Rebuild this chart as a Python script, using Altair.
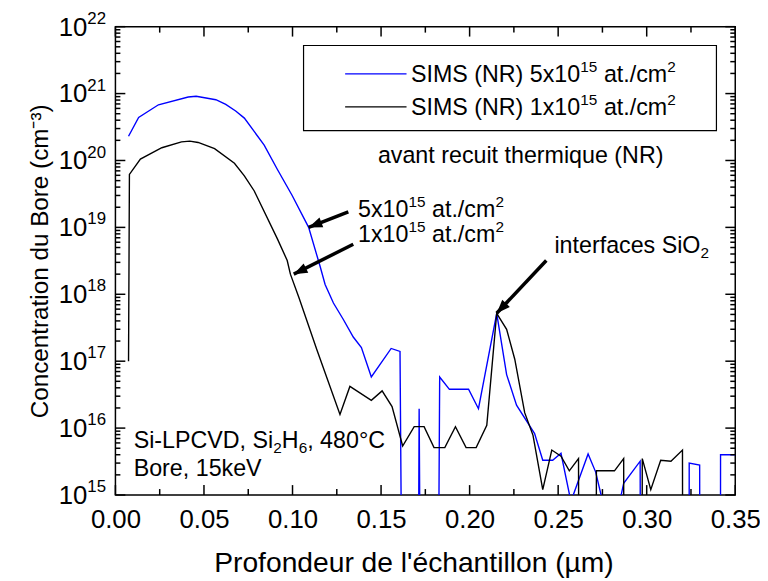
import math
import altair as alt
import pandas as pd

# ---------------- data ----------------
# depth in µm, concentration in cm^-3 ; 1e10 stands for "below detection" (off the chart)
blue_x = [0.0074, 0.0131, 0.0243, 0.0411, 0.0456, 0.0567, 0.0623, 0.0679, 0.0728, 0.0840,
          0.0914, 0.0998, 0.1091, 0.1156, 0.1184, 0.1231, 0.1287, 0.1343, 0.1389, 0.1445,
          0.1557, 0.1607, 0.1627, 0.1705, 0.1715, 0.1730, 0.1816, 0.1831, 0.1886, 0.1994,
          0.2050, 0.2153, 0.2209, 0.2265, 0.2367, 0.2413, 0.2469, 0.2516, 0.2572, 0.2669,
          0.2712, 0.2762, 0.2838, 0.2870, 0.2963, 0.2968, 0.3239, 0.3240, 0.3299, 0.3303,
          0.3416, 0.3417, 0.3500]
blue_y = [2.3e20, 4.4e20, 6.8e20, 8.9e20, 9.1e20, 8.1e20, 6.9e20, 5.5e20, 4.3e20, 1.7e20,
          7.4e19, 3.0e19, 1.0e19, 2.6e18, 1.4e18, 7.4e17, 4.2e17, 2.3e17, 1.6e17, 5.8e16,
          1.55e17, 1.4e17, 1e10, 1e10, 1.95e16, 1e10, 1e10, 5.8e16, 3.8e16, 3.8e16,
          1.95e16, 5.2e17, 6.3e16, 2.2e16, 8.3e15, 3.3e15, 3.3e15, 4.2e15, 8e14, 4.1e15,
          2.2e15, 6e14, 6e14, 1.5e15, 3.2e15, 1e10, 1e10, 3.0e15, 2.8e15, 1e10,
          1e10, 4.0e15, 4.0e15]

black_x = [0.0074, 0.0079, 0.0141, 0.0262, 0.0373, 0.0420, 0.0467, 0.0560, 0.0672, 0.0728,
           0.0784, 0.0914, 0.0970, 0.0988, 0.1035, 0.1137, 0.1268, 0.1324, 0.1445, 0.1506,
           0.1562, 0.1622, 0.1687, 0.1743, 0.1799, 0.1860, 0.1920, 0.1980, 0.2037, 0.2097,
           0.2153, 0.2209, 0.2255, 0.2311, 0.2358, 0.2413, 0.2464, 0.2516, 0.2563, 0.2615,
           0.2620, 0.2712, 0.2716, 0.2818, 0.2870, 0.2873, 0.2972, 0.2975, 0.3023, 0.3079,
           0.3137, 0.3202, 0.3205, 0.3500]
black_y = [1.0e17, 6.2e19, 1.05e20, 1.55e20, 1.9e20, 1.95e20, 1.86e20, 1.5e20, 9.1e19, 5.9e19,
           3.5e19, 6.8e18, 3.2e18, 2.0e18, 9.1e17, 1.5e17, 1.6e16, 4.2e16, 2.6e16, 3.6e16,
           2.1e16, 5.4e15, 1.05e16, 1.05e16, 5.1e15, 5.1e15, 1.05e16, 5.1e15, 5.1e15, 1.1e16,
           5.2e17, 3.0e17, 1.07e17, 1.7e16, 7.8e15, 1.2e15, 4.7e15, 3.8e15, 2.3e15, 3.5e15,
           1e10, 1e10, 2.3e15, 2.3e15, 3.5e15, 1e10, 1e10, 3.5e15, 1.2e15, 3.3e15,
           3.2e15, 4.7e15, 1e10, 1e10]

# rich text: "^{..}" superscript, "_{..}" subscript
series_names = ["SIMS (NR) 5x10^{15} at./cm^{2}", "SIMS (NR) 1x10^{15} at./cm^{2}"]
series_colors = ["#0000FF", "#000000"]

x_ticks_major = [0.0, 0.05, 0.10, 0.15, 0.20, 0.25, 0.30, 0.35]
x_ticks_minor = [0.025, 0.075, 0.125, 0.175, 0.225, 0.275, 0.325]
y_exponents = [15, 16, 17, 18, 19, 20, 21, 22]
y_minor_mult = [2, 3, 4, 5, 6, 7, 8, 9]

ann_text = ["avant recuit thermique (NR)", "5x10^{15} at./cm^{2}", "1x10^{15} at./cm^{2}",
            "interfaces SiO_{2}", "Si-LPCVD, Si_{2}H_{6}, 480°C", "Bore, 15keV"]
ann_x = [0.1482, 0.1370, 0.1370, 0.2479, 0.0103, 0.0103]
ann_y = [9.1e19, 1.41e19, 6.0e18, 4.1e18, 5.1e15, 1.9e15]   # baseline of each text

arrow_tail_x = [0.1315, 0.1343, 0.2433]
arrow_tail_y = [1.7e19, 5.6e18, 3.2e18]
arrow_tip_x = [0.1091, 0.1007, 0.2153]
arrow_tip_y = [1.0e19, 2.0e18, 5.2e17]

x_title = "Profondeur de l'échantillon (µm)"
y_title = "Concentration du Bore (cm⁻³)"

# ---------------- layout ----------------
W, H = 626, 473
FONT = "Liberation Sans"
XMIN, XMAX = 0.0, 0.35
LMIN, LMAX = 15, 22
TICK_FS, TICK_SUP_FS = 26, 17
ANN_FS, ANN_SUP_FS = 23.5, 15.5

x_scale = alt.Scale(domain=[XMIN, XMAX], nice=False, zero=False)
y_scale = alt.Scale(type="log", domain=[10.0 ** LMIN, 10.0 ** LMAX], nice=False)

ARIAL = {' ': 278, '(': 333, ')': 333, ',': 278, '-': 333, '.': 278, '/': 278, '°': 400,
         'B': 667, 'C': 722, 'D': 722, 'H': 722, 'I': 278, 'L': 556, 'M': 833, 'N': 722,
         'O': 778, 'P': 667, 'R': 722, 'S': 667, 'V': 667, 'a': 556, 'c': 500, 'e': 556,
         'f': 278, 'i': 222, 'k': 500, 'm': 833, 'n': 556, 'o': 556, 'r': 333, 's': 500,
         't': 278, 'u': 556, 'x': 500, 'h': 556, 'q': 556, 'v': 500, 'l': 222, 'd': 556,
         'p': 556}


def text_w(s, fs):
    return sum(ARIAL.get(c, 556) for c in s) / 1000.0 * fs


def parse_rich(s):
    segs, i, cur = [], 0, ""
    while i < len(s):
        c = s[i]
        if c in "^_" and i + 1 < len(s) and s[i + 1] == "{":
            if cur:
                segs.append((cur, "n"))
                cur = ""
            j = s.index("}", i)
            segs.append((s[i + 2:j], "sup" if c == "^" else "sub"))
            i = j + 1
        else:
            cur += c
            i += 1
    if cur:
        segs.append((cur, "n"))
    return segs


def layout_rich(s, fs, sfs):
    """Split rich text into pieces with their horizontal offsets (spaces are not drawn)."""
    out, off = [], 0.0
    for t, kind in parse_rich(s):
        size = fs if kind == "n" else sfs
        lead = len(t) - len(t.lstrip(" "))
        off += text_w(" " * lead, size)
        body = t.strip(" ")
        if body:
            out.append((body, kind, off))
        off += text_w(t[lead:], size)
    return out, off


def to_px(x):
    return (x - XMIN) / (XMAX - XMIN) * W


def to_py(v):
    return (LMAX - math.log10(v)) / (LMAX - LMIN) * H


rows = []
for name, xs, ys in [(series_names[0], blue_x, blue_y), (series_names[1], black_x, black_y)]:
    for i, (xv, yv) in enumerate(zip(xs, ys)):
        rows.append({"series": name, "x": xv, "y": yv, "i": i})
df = pd.DataFrame(rows)

x_axis = alt.Axis(values=x_ticks_major, format=".2f", ticks=False, domain=False, grid=False,
                  labelFont=FONT, labelFontSize=TICK_FS, labelColor="black", labelPadding=12,
                  labelFlush=False,
                  title=x_title, titleFont=FONT, titleFontSize=28.5, titleFontWeight="normal",
                  titleColor="black", titleX=301, titleY=68, titleAlign="center",
                  titleBaseline="middle")
y_axis = alt.Axis(values=[10.0 ** e for e in y_exponents], labels=False, ticks=False, domain=False,
                  grid=False,
                  title=y_title, titleFont=FONT, titleFontSize=24.5, titleFontWeight="normal",
                  titleColor="black", titleX=-76, titleY=H / 2, titleAngle=270,
                  titleAlign="center", titleBaseline="middle")


def X(field):
    return alt.X(field, scale=x_scale, axis=x_axis)


def Y(field):
    return alt.Y(field, scale=y_scale, axis=y_axis)


lines = alt.Chart(df).mark_line(strokeWidth=1.4, clip=True).encode(
    x=X("x:Q"), y=Y("y:Q"),
    color=alt.Color("series:N", scale=alt.Scale(domain=series_names, range=series_colors), legend=None),
    order="i:Q",
)

# ---- ticks (inward, on all four sides) ----
xt = pd.DataFrame({"x": x_ticks_major + x_ticks_minor,
                   "major": [1] * len(x_ticks_major) + [0] * len(x_ticks_minor)})
yt_rows = [{"y": 10.0 ** e, "major": 1} for e in y_exponents]
for e in y_exponents[:-1]:
    for m in y_minor_mult:
        yt_rows.append({"y": m * 10.0 ** e, "major": 0})
yt = pd.DataFrame(yt_rows)

tick_layers = []
for major, length in [(1, 10), (0, 6)]:
    src = alt.Chart(xt).transform_filter(alt.datum.major == major)
    tick_layers.append(src.mark_rule(color="black", strokeWidth=1.5).encode(
        x=X("x:Q"), y=alt.value(H), y2=alt.value(H - length)))
    tick_layers.append(src.mark_rule(color="black", strokeWidth=1.5).encode(
        x=X("x:Q"), y=alt.value(0), y2=alt.value(length)))
for major, length in [(1, 10), (0, 5)]:
    src = alt.Chart(yt).transform_filter(alt.datum.major == major)
    tick_layers.append(src.mark_rule(color="black", strokeWidth=1.5).encode(
        y=Y("y:Q"), x=alt.value(0), x2=alt.value(length)))
    tick_layers.append(src.mark_rule(color="black", strokeWidth=1.5).encode(
        y=Y("y:Q"), x=alt.value(W), x2=alt.value(W - length)))

# ---- y tick labels 10^n (rich text) ----
ylab_rows = []
for e in y_exponents:
    segs, total = layout_rich("10^{%d}" % e, TICK_FS, TICK_SUP_FS)
    start = -9.5 - total
    for t, kind, off in segs:
        ylab_rows.append({"y": 10.0 ** e, "px": start + off, "t": t, "kind": kind})
ylab_df = pd.DataFrame(ylab_rows)
ylab_layers = []
for kind, fs, dy in [("n", TICK_FS, 9), ("sup", TICK_SUP_FS, -3)]:
    ylab_layers.append(alt.Chart(ylab_df).transform_filter(alt.datum.kind == kind).mark_text(
        align="left", baseline="alphabetic", font=FONT, fontSize=fs, dy=dy, color="black").encode(
        x=alt.X("px:Q", scale=None), y=Y("y:Q"), text="t:N"))

# ---- annotations (rich text anchored in data coordinates) ----
ann_rows = []
for k, s in enumerate(ann_text):
    segs, _ = layout_rich(s, ANN_FS, ANN_SUP_FS)
    for t, kind, off in segs:
        ann_rows.append({"x": ann_x[k] + off * (XMAX - XMIN) / W, "y": ann_y[k], "t": t, "kind": kind})
ann_df = pd.DataFrame(ann_rows)
ann_layers = []
for kind, fs, dy in [("n", ANN_FS, 0), ("sup", ANN_SUP_FS, -10), ("sub", ANN_SUP_FS, 5)]:
    ann_layers.append(alt.Chart(ann_df).transform_filter(alt.datum.kind == kind).mark_text(
        align="left", baseline="alphabetic", font=FONT, fontSize=fs, dy=dy, color="black").encode(
        x=X("x:Q"), y=Y("y:Q"), text="t:N"))

# ---- arrows ----
shaft_rows, head_rows = [], []
for k in range(len(arrow_tip_x)):
    shaft_rows.append({"k": k, "o": 0, "x": arrow_tail_x[k], "y": arrow_tail_y[k]})
    shaft_rows.append({"k": k, "o": 1, "x": arrow_tip_x[k], "y": arrow_tip_y[k]})
    dx = to_px(arrow_tip_x[k]) - to_px(arrow_tail_x[k])
    dy = to_py(arrow_tip_y[k]) - to_py(arrow_tail_y[k])
    ang = math.degrees(math.atan2(dx, -dy)) % 360
    head_rows.append({"x": arrow_tip_x[k], "y": arrow_tip_y[k], "a": ang})
shafts = alt.Chart(pd.DataFrame(shaft_rows)).mark_line(color="black", strokeWidth=3.5).encode(
    x=X("x:Q"), y=Y("y:Q"), detail="k:N", order="o:Q")
heads = alt.Chart(pd.DataFrame(head_rows)).mark_point(
    shape="M0,0L0.38,1L-0.38,1Z", size=760, filled=True, color="black", opacity=1, strokeWidth=0
).encode(x=X("x:Q"), y=Y("y:Q"), angle=alt.Angle("a:Q", scale=None))

# ---- legend (boxed, upper right) ----
box = alt.Chart(pd.DataFrame({"a": [0]})).mark_rect(fill="white", stroke="black", strokeWidth=1.2).encode(
    x=alt.value(190), x2=alt.value(607), y=alt.value(19), y2=alt.value(105))
leg_line_df = pd.DataFrame({"color": series_colors, "py": [47.7, 81.0]})
leg_lines = alt.Chart(leg_line_df).mark_rule(strokeWidth=1.4).encode(
    x=alt.value(232), x2=alt.value(294),
    y=alt.Y("py:Q", scale=None),
    color=alt.Color("color:N", scale=None),
)
leg_rows = []
for k, name in enumerate(series_names):
    segs, _ = layout_rich(name, ANN_FS, ANN_SUP_FS)
    for t, kind, off in segs:
        leg_rows.append({"px": 298.5 + off, "py": [56.0, 89.4][k], "t": t, "kind": kind})
leg_df = pd.DataFrame(leg_rows)
leg_layers = []
for kind, fs, dy in [("n", ANN_FS, 0), ("sup", ANN_SUP_FS, -10)]:
    leg_layers.append(alt.Chart(leg_df).transform_filter(alt.datum.kind == kind).mark_text(
        align="left", baseline="alphabetic", font=FONT, fontSize=fs, dy=dy, color="black").encode(
        x=alt.X("px:Q", scale=None), y=alt.Y("py:Q", scale=None), text="t:N"))

chart = alt.layer(
    box, lines, *tick_layers, *ylab_layers, *ann_layers, shafts, heads, leg_lines, *leg_layers
).properties(
    width=W, height=H,
    autosize=alt.AutoSizeParams(type="none"),
    padding={"left": 108.5, "top": 16, "right": 25, "bottom": 84},
).configure_view(stroke="black", strokeWidth=1.5)

chart.save("out.html", embed_options={"renderer": "svg", "actions": False})
